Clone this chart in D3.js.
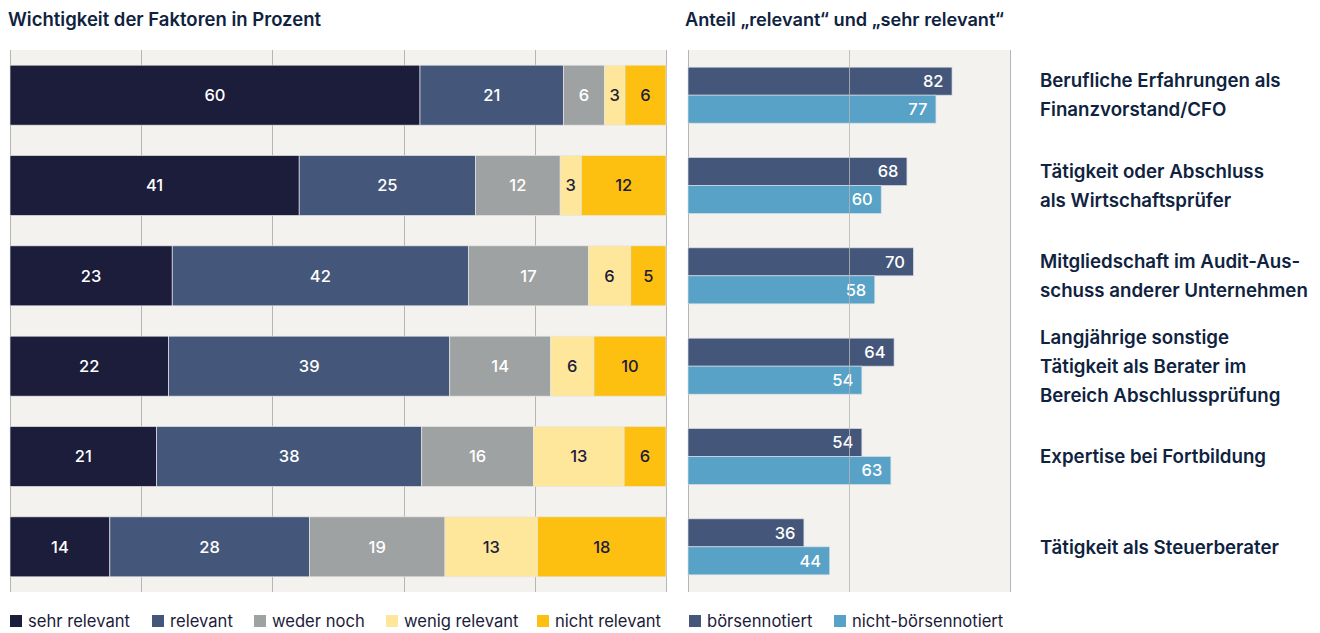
<!DOCTYPE html>
<html>
<head>
<meta charset="utf-8">
<script src="https://cdn.jsdelivr.net/npm/d3@7"></script>
<style>
  body { margin: 0; background: #fff; }
  svg { display: block; font-family: Inter, "Noto Sans", sans-serif; }
</style>
</head>
<body>
<svg id="chart" width="1320" height="633"></svg>
<script>
"use strict";

const categories = [
  ["Berufliche Erfahrungen als", "Finanzvorstand/CFO"],
  ["Tätigkeit oder Abschluss", "als Wirtschaftsprüfer"],
  ["Mitgliedschaft im Audit-Aus-", "schuss anderer Unternehmen"],
  ["Langjährige sonstige", "Tätigkeit als Berater im", "Bereich Abschlussprüfung"],
  ["Expertise bei Fortbildung"],
  ["Tätigkeit als Steuerberater"]
];

const stackKeys = ["sehr relevant", "relevant", "weder noch", "wenig relevant", "nicht relevant"];
const sehrRelevant = [60, 41, 23, 22, 21, 14];
const relevant = [21, 25, 42, 39, 38, 28];
const wederNoch = [6, 12, 17, 14, 16, 19];
const wenigRelevant = [3, 3, 6, 6, 13, 13];
const nichtRelevant = [6, 12, 5, 10, 6, 18];

const pairKeys = ["börsennotiert", "nicht-börsennotiert"];
const boersennotiert = [82, 68, 70, 64, 54, 36];
const nichtBoersennotiert = [77, 60, 58, 54, 63, 44];

const stackColors = ["#1c1c3b", "#44577a", "#9fa2a3", "#fee69a", "#fdc010"];
const stackText = ["#fff", "#fff", "#fff", "#1c1c3b", "#1c1c3b"];
const pairColors = ["#44577a", "#57a2c6"];

const ink = "#0f2340";
const panelBg = "#f3f2ee";
const gridColor = "#b5b5b5";

const svg = d3.select("#chart");

// rows
const panelTop = 50, panelBottom = 592;
const y = d3.scaleBand()
  .domain(d3.range(categories.length))
  .range([panelTop, panelBottom])
  .paddingInner(0.336)
  .paddingOuter(0.168);

// ---- left panel: stacked shares ----
const stackSeries = [sehrRelevant, relevant, wederNoch, wenigRelevant, nichtRelevant];
const rows = categories.map((c, i) => {
  const r = {index: i};
  stackKeys.forEach((k, j) => r[k] = stackSeries[j][i]);
  r.total = d3.sum(stackSeries, s => s[i]);
  return r;
});

const xL = d3.scaleLinear().domain([0, 1]).range([10, 666]);

svg.append("rect")
  .attr("x", xL(0)).attr("y", panelTop)
  .attr("width", xL(1) - xL(0)).attr("height", panelBottom - panelTop)
  .attr("fill", panelBg);

svg.append("g")
  .selectAll("line")
  .data(d3.range(0, 1.0001, 0.2))
  .join("line")
  .attr("x1", d => Math.round(xL(d)) + 0.5)
  .attr("x2", d => Math.round(xL(d)) + 0.5)
  .attr("y1", panelTop).attr("y2", panelBottom)
  .attr("stroke", gridColor).attr("stroke-width", 1);

const stacked = d3.stack()
  .keys(stackKeys)
  .value((d, k) => d[k] / d.total)(rows);

stacked.forEach((layer, j) => {
  const g = svg.append("g");
  g.selectAll("rect")
    .data(layer)
    .join("rect")
    .attr("x", d => xL(d[0]))
    .attr("y", (d, i) => y(i))
    .attr("width", d => xL(d[1]) - xL(d[0]))
    .attr("height", y.bandwidth())
    .attr("fill", stackColors[j])
    .attr("stroke", "#e6e6e6")
    .attr("stroke-width", 0.7);

  g.selectAll("text")
    .data(layer)
    .join("text")
    .attr("x", d => (xL(d[0]) + xL(d[1])) / 2)
    .attr("y", (d, i) => y(i) + y.bandwidth() / 2)
    .attr("dy", "0.36em")
    .attr("text-anchor", "middle")
    .attr("fill", stackText[j])
    .attr("font-size", 16.5)
    .attr("font-weight", 500)
    .text(d => d.data[stackKeys[j]]);
});

// ---- right panel: share relevant ----
const xR = d3.scaleLinear().domain([0, 100]).range([688, 1010]);
const pairSeries = [boersennotiert, nichtBoersennotiert];
const sub = d3.scaleBand().domain(pairKeys).range([0, 56]);

svg.append("rect")
  .attr("x", xR(0)).attr("y", panelTop)
  .attr("width", xR(100) - xR(0)).attr("height", panelBottom - panelTop)
  .attr("fill", panelBg);

svg.append("g")
  .selectAll("line")
  .data([0, 100])
  .join("line")
  .attr("x1", d => Math.round(xR(d)) + 0.5)
  .attr("x2", d => Math.round(xR(d)) + 0.5)
  .attr("y1", panelTop).attr("y2", panelBottom)
  .attr("stroke", gridColor);

pairKeys.forEach((k, j) => {
  const g = svg.append("g");
  const vals = pairSeries[j];
  const yOf = i => y(i) + y.bandwidth() / 2 - 28 + sub(k);
  g.selectAll("rect")
    .data(vals)
    .join("rect")
    .attr("x", xR(0))
    .attr("y", (d, i) => yOf(i))
    .attr("width", d => xR(d) - xR(0))
    .attr("height", sub.bandwidth())
    .attr("fill", pairColors[j])
    .attr("stroke", "#d6dde4")
    .attr("stroke-width", 0.7);

  g.selectAll("text")
    .data(vals)
    .join("text")
    .attr("x", d => xR(d) - 8.5)
    .attr("y", (d, i) => yOf(i) + sub.bandwidth() / 2)
    .attr("dy", "0.36em")
    .attr("text-anchor", "end")
    .attr("fill", "#fff")
    .attr("font-size", 16.5)
    .attr("font-weight", 500)
    .text(d => d);
});

svg.append("line")
  .attr("x1", Math.round(xR(50)) + 0.5)
  .attr("x2", Math.round(xR(50)) + 0.5)
  .attr("y1", panelTop).attr("y2", panelBottom)
  .attr("stroke", gridColor).attr("stroke-opacity", 0.8);

// ---- titles ----
svg.append("text")
  .attr("x", 8).attr("y", 26)
  .attr("fill", ink).attr("font-size", 18.5).attr("font-weight", 600)
  .text("Wichtigkeit der Faktoren in Prozent");

svg.append("text")
  .attr("x", 685).attr("y", 26)
  .attr("fill", ink).attr("font-size", 18.2).attr("font-weight", 600)
  .text("Anteil „relevant“ und „sehr relevant“");

// ---- category labels ----
const lineH = 29;
svg.append("g")
  .selectAll("text")
  .data(categories)
  .join("text")
  .attr("x", 1040)
  .attr("y", (d, i) => y(i) + y.bandwidth() / 2 - (d.length - 1) * lineH / 2)
  .attr("fill", ink)
  .attr("font-size", 18.7)
  .attr("font-weight", 600)
  .selectAll("tspan")
  .data(d => d)
  .join("tspan")
  .attr("x", 1040)
  .attr("dy", (d, i) => i === 0 ? "0.36em" : lineH)
  .text(d => d);

// ---- legend ----
const legendItems = stackKeys.map((k, j) => ({label: k, color: stackColors[j]}))
  .concat(pairKeys.map((k, j) => ({label: k, color: pairColors[j]})));
const legendX = [10, 152, 254, 386, 537, 689, 834];

const lg = svg.append("g")
  .selectAll("g")
  .data(legendItems)
  .join("g")
  .attr("transform", (d, i) => `translate(${legendX[i]},621)`);

lg.append("rect")
  .attr("x", 0).attr("y", -6)
  .attr("width", 12).attr("height", 12)
  .attr("fill", d => d.color);

lg.append("text")
  .attr("x", 18).attr("y", 0)
  .attr("dy", "0.36em")
  .attr("fill", "#1c1c3b")
  .attr("font-size", 16.6)
  .text(d => d.label);
</script>
</body>
</html>
